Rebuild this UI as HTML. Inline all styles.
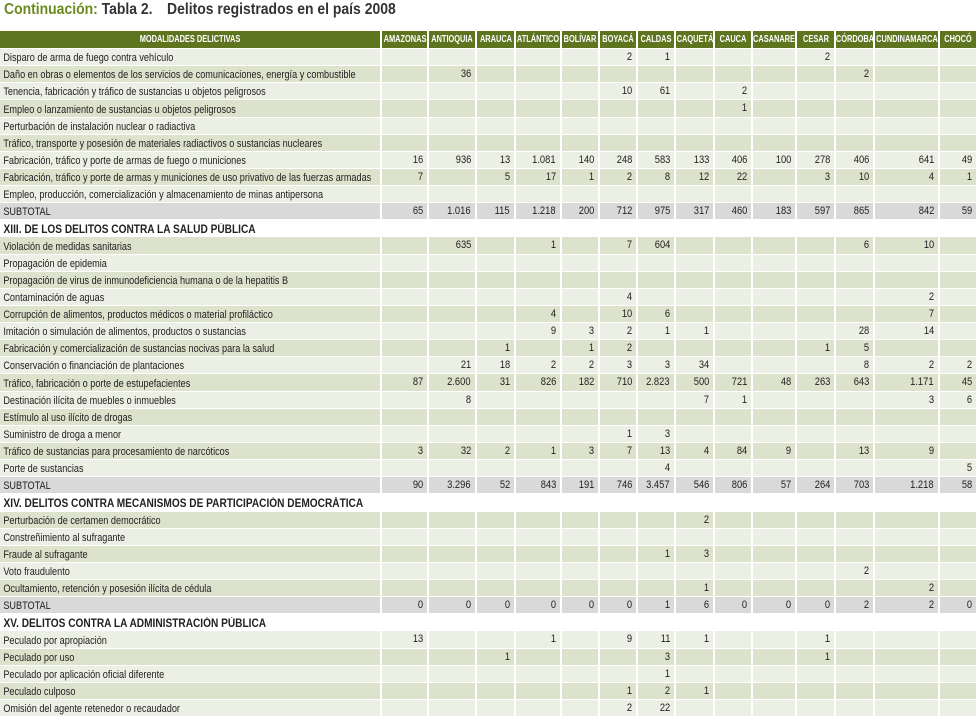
<!DOCTYPE html>
<html><head><meta charset="utf-8">
<style>
body{margin:0;background:#fff;width:976px;height:719px;overflow:hidden;font-family:"Liberation Sans",sans-serif;position:relative}
.tt{position:absolute;top:1px;font-size:15.5px;font-weight:bold;color:#333;white-space:nowrap;transform:scaleX(0.9);transform-origin:left center}
.g{color:#6b8a1e}
.c{position:absolute;overflow:visible;white-space:nowrap;box-sizing:border-box}
.t{display:inline-block;font-size:11px;color:#222}
.lt{transform:scaleX(0.83);transform-origin:left center;padding-left:4px}
.rt{transform:scaleX(0.85);transform-origin:right center;position:absolute;right:4px}
.h{background:#5e7520;color:#fff}
.h .t{color:#fff;font-weight:bold;font-size:10px;position:absolute;left:50%;transform:translateX(-50%) scaleX(0.74);transform-origin:center center}
.sec .t{font-weight:bold;font-size:11.5px;color:#222;transform:scaleX(0.88)}
</style></head><body>
<div class="tt" style="left:4px"><span class="g">Continuación:</span> Tabla 2.</div>
<div class="tt" style="left:167px">Delitos registrados en el país 2008</div>
<div id="tbl"></div>
<script>
const columns=["AMAZONAS","ANTIOQUIA","ARAUCA","ATLÁNTICO","BOLÍVAR","BOYACÁ","CALDAS","CAQUETÁ","CAUCA","CASANARE","CESAR","CÓRDOBA","CUNDINAMARCA","CHOCÓ"];
const edges=[0,381,428,476,515,561,599,637,675,714,752,796,835,874,939,976];
const _=null;
const rows=[
["r","Disparo de arma de fuego contra vehículo",[_,_,_,_,_,"2","1",_,_,_,"2",_,_,_]],
["r","Daño en obras o elementos de los servicios de comunicaciones, energía y combustible",[_,"36",_,_,_,_,_,_,_,_,_,"2",_,_]],
["r","Tenencia, fabricación y tráfico de sustancias u objetos peligrosos",[_,_,_,_,_,"10","61",_,"2",_,_,_,_,_]],
["r","Empleo o lanzamiento de sustancias u objetos peligrosos",[_,_,_,_,_,_,_,_,"1",_,_,_,_,_]],
["r","Perturbación de instalación nuclear o radiactiva",[_,_,_,_,_,_,_,_,_,_,_,_,_,_]],
["r","Tráfico, transporte y posesión de materiales radiactivos o sustancias nucleares",[_,_,_,_,_,_,_,_,_,_,_,_,_,_]],
["r","Fabricación, tráfico y porte de armas de fuego o municiones",["16","936","13","1.081","140","248","583","133","406","100","278","406","641","49"]],
["r","Fabricación, tráfico y porte de armas y municiones de uso privativo de las fuerzas armadas",["7",_,"5","17","1","2","8","12","22",_,"3","10","4","1"]],
["r","Empleo, producción, comercialización y almacenamiento de minas antipersona",[_,_,_,_,_,_,_,_,_,_,_,_,_,_]],
["s","SUBTOTAL",["65","1.016","115","1.218","200","712","975","317","460","183","597","865","842","59"]],
["h","XIII. DE LOS DELITOS CONTRA LA SALUD PÚBLICA",[]],
["r","Violación de medidas sanitarias",[_,"635",_,"1",_,"7","604",_,_,_,_,"6","10",_]],
["r","Propagación de epidemia",[_,_,_,_,_,_,_,_,_,_,_,_,_,_]],
["r","Propagación de virus de inmunodeficiencia humana o de la hepatitis B",[_,_,_,_,_,_,_,_,_,_,_,_,_,_]],
["r","Contaminación de aguas",[_,_,_,_,_,"4",_,_,_,_,_,_,"2",_]],
["r","Corrupción de alimentos, productos médicos o material profiláctico",[_,_,_,"4",_,"10","6",_,_,_,_,_,"7",_]],
["r","Imitación o simulación de alimentos, productos o sustancias",[_,_,_,"9","3","2","1","1",_,_,_,"28","14",_]],
["r","Fabricación y comercialización de sustancias nocivas para la salud",[_,_,"1",_,"1","2",_,_,_,_,"1","5",_,_]],
["r","Conservación o financiación de plantaciones",[_,"21","18","2","2","3","3","34",_,_,_,"8","2","2"]],
["r","Tráfico, fabricación o porte de estupefacientes",["87","2.600","31","826","182","710","2.823","500","721","48","263","643","1.171","45"]],
["r","Destinación ilícita de muebles o inmuebles",[_,"8",_,_,_,_,_,"7","1",_,_,_,"3","6"]],
["r","Estímulo al uso ilícito de drogas",[_,_,_,_,_,_,_,_,_,_,_,_,_,_]],
["r","Suministro de droga a menor",[_,_,_,_,_,"1","3",_,_,_,_,_,_,_]],
["r","Tráfico de sustancias para procesamiento de narcóticos",["3","32","2","1","3","7","13","4","84","9",_,"13","9",_]],
["r","Porte de sustancias",[_,_,_,_,_,_,"4",_,_,_,_,_,_,"5"]],
["s","SUBTOTAL",["90","3.296","52","843","191","746","3.457","546","806","57","264","703","1.218","58"]],
["h","XIV. DELITOS CONTRA MECANISMOS DE PARTICIPACIÓN DEMOCRÁTICA",[]],
["r","Perturbación de certamen democrático",[_,_,_,_,_,_,_,"2",_,_,_,_,_,_]],
["r","Constreñimiento al sufragante",[_,_,_,_,_,_,_,_,_,_,_,_,_,_]],
["r","Fraude al sufragante",[_,_,_,_,_,_,"1","3",_,_,_,_,_,_]],
["r","Voto fraudulento",[_,_,_,_,_,_,_,_,_,_,_,"2",_,_]],
["r","Ocultamiento, retención y posesión ilícita de cédula",[_,_,_,_,_,_,_,"1",_,_,_,_,"2",_]],
["s","SUBTOTAL",["0","0","0","0","0","0","1","6","0","0","0","2","2","0"]],
["h","XV. DELITOS CONTRA LA ADMINISTRACIÓN PÚBLICA",[]],
["r","Peculado por apropiación",["13",_,_,"1",_,"9","11","1",_,_,"1",_,_,_]],
["r","Peculado por uso",[_,_,"1",_,_,_,"3",_,_,_,"1",_,_,_]],
["r","Peculado por aplicación oficial diferente",[_,_,_,_,_,_,"1",_,_,_,_,_,_,_]],
["r","Peculado culposo",[_,_,_,_,_,"1","2","1",_,_,_,_,_,_]],
["r","Omisión del agente retenedor o recaudador",[_,_,_,_,_,"2","22",_,_,_,_,_,_,_]]
];
const tbl=document.getElementById('tbl');
function cell(x0,x1,y,h,bg,cls){
  const d=document.createElement('div');
  d.className='c '+(cls||'');
  d.style.left=(x0+1)+'px';d.style.width=(x1-x0-2)+'px';
  d.style.top=y+'px';d.style.height=h+'px';d.style.lineHeight=h+'px';
  if(bg)d.style.background=bg;
  tbl.appendChild(d);return d;
}
let hd=cell(edges[0]-1,edges[1],31,17,null,'h');


hd.innerHTML='<span class="t">MODALIDADES DELICTIVAS</span>';
columns.forEach((c,i)=>{
  const d=cell(edges[i+1],edges[i+2]+(i==13?1:0),31,17,null,'h');
  
  
  d.innerHTML='<span class="t">'+c+'</span>';
});
const RH=17.13;let alt=0;
rows.forEach((r,ri)=>{
  const y=Math.round(49+ri*RH);const h=Math.round(49+(ri+1)*RH)-y-1;
  const type=r[0];
  if(type==='h'){
    alt=0;
    const d=cell(-1,976,y,h+1,'#fff','sec');
    
    
    d.innerHTML='<span class="t lt">'+r[1]+'</span>';
    return;
  }
  let bg;
  if(type==='s'){bg='#d9d9d9';}
  else{bg=alt%2===0?'#dde2cc':'#ecefe3';alt++;}
  if(ri<10&&type==='r'){bg=(ri%2===0)?'#ecefe3':'#dde2cc';}
  if(ri>=34&&type==='r'){bg=((ri-34)%2===0)?'#ecefe3':'#dde2cc';}
  const lab=cell(-1,edges[1],y,h,bg);
  
  
  lab.innerHTML='<span class="t lt">'+r[1]+'</span>';
  for(let i=0;i<14;i++){
    const v=cell(edges[i+1],edges[i+2]+(i==13?1:0),y,h,bg);
    
    
    if(r[2][i]!=null)v.innerHTML='<span class="t rt">'+r[2][i]+'</span>';
  }
});
</script>
</body></html>
